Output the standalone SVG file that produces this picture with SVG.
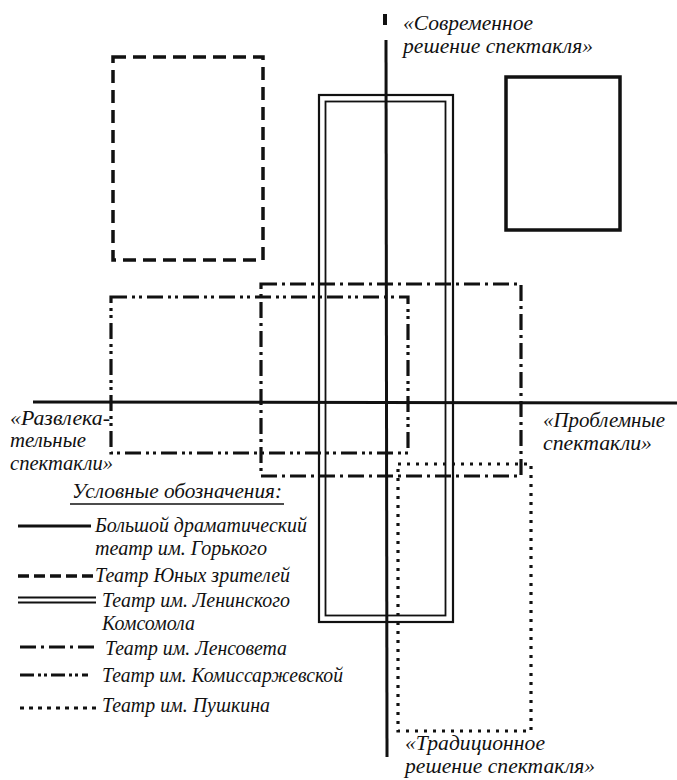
<svg xmlns="http://www.w3.org/2000/svg" width="677" height="780" viewBox="0 0 677 780">
<style>
.t{font-family:"Liberation Serif","Times New Roman",serif;font-style:italic;font-size:20px;fill:#111}
.ln{fill:none;stroke:#111;stroke-linecap:butt}
.solid{stroke-width:3.5}
.dash{stroke-width:3.5;stroke-dasharray:13 7}
.dbl{stroke-width:2.2}
.lens{stroke-width:3.2;stroke-dasharray:16 5 3 5}
.kom{stroke-width:3.2;stroke-dasharray:16 5 3 4 3 5}
.dot{stroke-width:3.2;stroke-dasharray:3 6}
.axis{stroke-width:3}
</style>
<rect width="677" height="780" fill="#fff"/>
<g id="axes">
<line class="ln axis" x1="385" y1="14" x2="385" y2="25" style="stroke-width:4"/>
<line class="ln axis" x1="386" y1="40" x2="387" y2="757"/>
<line class="ln axis" x1="33" y1="402" x2="677" y2="403"/>
</g>
<g id="bdt"><rect class="ln solid" x="506" y="77" width="114" height="153"/></g>
<g id="tyuz"><rect class="ln dash" x="113" y="57" width="150" height="203"/></g>
<g id="lenkom">
<rect class="ln dbl" x="319" y="95" width="134" height="527"/>
<rect class="ln" style="stroke-width:1.8" x="325.5" y="101.5" width="120" height="514"/>
</g>
<g id="komiss"><rect class="ln kom" x="111" y="297" width="297" height="156"/></g>
<g id="lensovet"><rect class="ln lens" x="261" y="284" width="260" height="192"/></g>
<g id="pushkin"><rect class="ln dot" x="398" y="464" width="133" height="267"/></g>
<g id="labels">
<text class="t" x="403" y="30" textLength="130" lengthAdjust="spacingAndGlyphs">«Современное</text>
<text class="t" x="403" y="53" textLength="190" lengthAdjust="spacingAndGlyphs">решение спектакля»</text>
<text class="t" x="10" y="425" textLength="100" lengthAdjust="spacingAndGlyphs">«Развлека-</text>
<text class="t" x="10" y="447" textLength="76" lengthAdjust="spacingAndGlyphs">тельные</text>
<text class="t" x="10" y="470" textLength="103" lengthAdjust="spacingAndGlyphs">спектакли»</text>
<text class="t" x="543" y="427" textLength="122" lengthAdjust="spacingAndGlyphs">«Проблемные</text>
<text class="t" x="543" y="450" textLength="109" lengthAdjust="spacingAndGlyphs">спектакли»</text>
<text class="t" x="405" y="750" textLength="140" lengthAdjust="spacingAndGlyphs">«Традиционное</text>
<text class="t" x="405" y="773" textLength="190" lengthAdjust="spacingAndGlyphs">решение спектакля»</text>
</g>
<g id="legend">
<text class="t" x="72" y="498" textLength="210" lengthAdjust="spacingAndGlyphs">Условные обозначения:</text>
<line class="ln" style="stroke-width:1.5" x1="70" y1="504" x2="284" y2="504"/>
<line class="ln solid" x1="18" y1="526" x2="91" y2="526" style="stroke-width:3"/>
<text class="t" x="95" y="532" textLength="212" lengthAdjust="spacingAndGlyphs">Большой драматический</text>
<text class="t" x="95" y="555" textLength="172" lengthAdjust="spacingAndGlyphs">театр им. Горького</text>
<line class="ln dash" x1="18" y1="576" x2="93" y2="576" style="stroke-dasharray:11 5"/>
<text class="t" x="95" y="582" textLength="195" lengthAdjust="spacingAndGlyphs">Театр Юных зрителей</text>
<line class="ln dbl" x1="18" y1="597.5" x2="96" y2="597.5"/>
<line class="ln dbl" x1="18" y1="602.5" x2="96" y2="602.5"/>
<text class="t" x="102" y="607" textLength="188" lengthAdjust="spacingAndGlyphs">Театр им. Ленинского</text>
<text class="t" x="102" y="630" textLength="93" lengthAdjust="spacingAndGlyphs">Комсомола</text>
<line class="ln lens" x1="20" y1="647" x2="99" y2="647"/>
<text class="t" x="105" y="655" textLength="182" lengthAdjust="spacingAndGlyphs">Театр им. Ленсовета</text>
<line class="ln kom" x1="20" y1="675" x2="88" y2="675" style="stroke-dasharray:14 4 3 3 3 4"/>
<text class="t" x="102" y="682" textLength="241" lengthAdjust="spacingAndGlyphs">Театр им. Комиссаржевской</text>
<line class="ln dot" x1="20" y1="708" x2="96" y2="708" style="stroke-dasharray:4 5"/>
<text class="t" x="102" y="712" textLength="168" lengthAdjust="spacingAndGlyphs">Театр им. Пушкина</text>
</g>
</svg>
